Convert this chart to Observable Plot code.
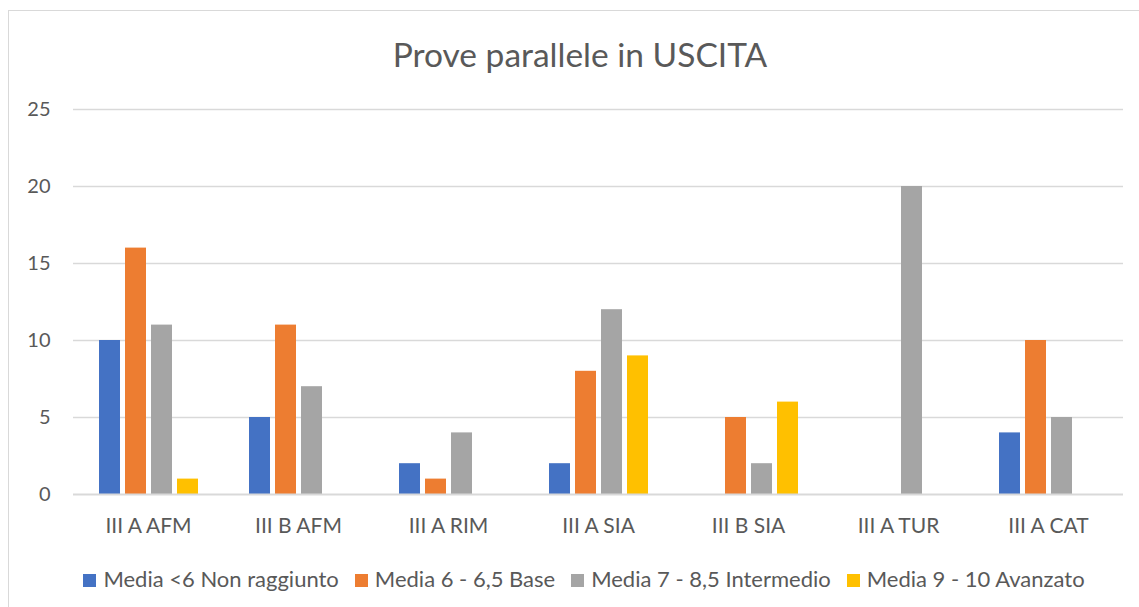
<!DOCTYPE html>
<html>
<head>
<meta charset="utf-8">
<script src="https://cdn.jsdelivr.net/npm/d3@7"></script>
<script src="https://cdn.jsdelivr.net/npm/@observablehq/plot@0.6"></script>
<style>
  html, body { margin: 0; padding: 0; background: #fff; }
  body { width: 1139px; height: 607px; overflow: hidden; position: relative; font-family: Lato, "Open Sans", sans-serif; color: #595959; }
  #frame { position: absolute; left: 8px; top: 10px; width: 1145px; height: 620px; border: 1px solid #d9d9d9; box-sizing: border-box; }
  #title { position: absolute; left: 0; width: 1160px; top: 34px; text-align: center; font-size: 33.5px; line-height: 40px; }
  #chart { position: absolute; left: 0; top: 90px; }
  #legend { position: absolute; left: 0; width: 1168px; top: 566px; text-align: center; font-size: 22px; line-height: 26px; white-space: nowrap; }
  .item { display: inline-block; margin: 0 8px; }
  .sw { display: inline-block; width: 13px; height: 13px; margin-right: 7px; vertical-align: 0px; }
</style>
</head>
<body>
<div id="frame"></div>
<div id="title">Prove parallele in USCITA</div>
<div id="chart"></div>
<div id="legend"></div>
<script>
const categories = ["III A AFM", "III B AFM", "III A RIM", "III A SIA", "III B SIA", "III A TUR", "III A CAT"];
const seriesNames = ["Media <6 Non raggiunto", "Media 6 - 6,5 Base", "Media 7 - 8,5 Intermedio", "Media 9 - 10 Avanzato"];
const seriesColors = ["#4472C4", "#ED7D31", "#A5A5A5", "#FFC000"];
const nonRaggiunto = [10, 5, 2, 2, 0, 0, 4];
const base = [16, 11, 1, 8, 5, 0, 10];
const intermedio = [11, 7, 4, 12, 2, 20, 5];
const avanzato = [1, 0, 0, 9, 6, 0, 0];
const yTicks = [0, 5, 10, 15, 20, 25];

const seriesValues = [nonRaggiunto, base, intermedio, avanzato];
const rows = [];
categories.forEach((c, i) => {
  seriesNames.forEach((s, j) => rows.push({cat: c, series: s, value: seriesValues[j][i]}));
});

const chart = Plot.plot({
  width: 1139,
  height: 460,
  marginLeft: 72,
  marginRight: 16,
  marginTop: 19,
  marginBottom: 56,
  style: {fontSize: "20px", fontFamily: "Lato, 'Open Sans', sans-serif", color: "#595959", background: "transparent"},
  fx: {domain: categories, padding: 0, label: null, tickSize: 0, tickPadding: 24, axis: "bottom"},
  x: {domain: seriesNames, paddingInner: 0.2, paddingOuter: 0.878, axis: null},
  y: {domain: [0, 25], ticks: yTicks, tickSize: 0, tickPadding: 23, label: null},
  color: {domain: seriesNames, range: seriesColors},
  marks: [
    Plot.ruleY(yTicks.slice(1), {stroke: "#d9d9d9", strokeWidth: 1.3}),
    Plot.barY(rows, {fx: "cat", x: "series", y: "value", fill: "series"}),
    Plot.ruleY([0], {stroke: "#d9d9d9", strokeWidth: 2})
  ]
});
chart.querySelectorAll("[aria-label='fx-axis tick label'] text, g[aria-label='fx-axis tick label']").forEach(el => el.style.fontSize = "21px");
document.getElementById("chart").appendChild(chart);

const legend = document.getElementById("legend");
seriesNames.forEach((s, i) => {
  const item = document.createElement("span");
  item.className = "item";
  const sw = document.createElement("span");
  sw.className = "sw";
  sw.style.background = seriesColors[i];
  item.appendChild(sw);
  item.appendChild(document.createTextNode(s));
  legend.appendChild(item);
});
</script>
</body>
</html>
